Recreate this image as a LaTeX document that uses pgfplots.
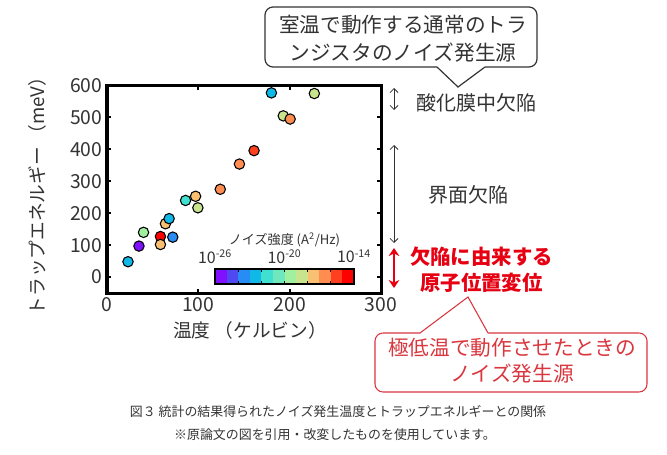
\documentclass[border=0pt]{standalone}
\usepackage{pgfplots}
\pgfplotsset{compat=1.18}
\usepackage{fontspec}
\setmainfont{Noto Sans CJK JP}
\usetikzlibrary{arrows.meta}

\definecolor{txtgray}{HTML}{333333}
\definecolor{annred}{HTML}{E60012}
\definecolor{boxred}{HTML}{D9363E}
% one colour per decade of noise intensity, 10^-26 ... 10^-14
\definecolor{nc0}{RGB}{128,16,255}
\definecolor{nc1}{RGB}{80,72,240}
\definecolor{nc2}{RGB}{40,140,245}
\definecolor{nc3}{RGB}{16,184,232}
\definecolor{nc4}{RGB}{64,224,208}
\definecolor{nc5}{RGB}{112,232,190}
\definecolor{nc6}{RGB}{160,240,160}
\definecolor{nc7}{RGB}{200,228,140}
\definecolor{nc8}{RGB}{248,192,112}
\definecolor{nc9}{RGB}{255,140,80}
\definecolor{nc10}{RGB}{255,64,32}
\definecolor{nc11}{RGB}{255,0,0}

% temperature (K), trap energy (meV), colour class
\pgfplotstableread{
T     E    c
23    48   c3
35    97   c0
40    140  c6
58.5  127  c11
58.5  102  c8
64    167  c8
68    183  c3
72    125  c2
86    240  c4
97    253  c8
99.5  217  c7
124   275  c9
145   354  c9
161   396  c10
180   577  c3
193   505  c7
200.5 495  c9
227   575  c7
}\trapdata

\begin{document}
\begin{tikzpicture}[x=0.75pt,y=0.75pt]
\useasboundingbox (0,0) rectangle (667,454);
\begin{axis}[
  at={(80.25pt,120.75pt)}, anchor=south west,
  scale only axis, width=205.5pt, height=155.6pt,
  xmin=0, xmax=300, ymin=-50, ymax=600,
  xtick={0,100,200,300}, ytick={0,100,...,600},
  tick align=inside, major tick length=3pt,
  every tick/.style={black, line width=1.5pt},
  axis line style={line width=2.25pt},
  tick label style={font=\fontsize{14.5}{16}\selectfont, text=txtgray},
  /pgf/number format/assume math mode=true,
  xlabel={温度 （ケルビン）}, ylabel={トラップエネルギー （meV）},
  every axis x label/.style={at={(axis description cs:0.522,-0.178)}, anchor=center,
    font=\fontsize{14}{16}\selectfont, text=txtgray},
  every axis y label/.style={at={(axis description cs:-0.255,0.489)}, anchor=center, rotate=90,
    font=\fontsize{14}{16}\selectfont, text=txtgray},
]
\addplot[scatter, only marks, mark=*, mark size=3.9pt, point meta=explicit symbolic,
  mark options={line width=0.8pt, draw=black},
  scatter/classes={
    c0={fill=nc0}, c1={fill=nc1}, c2={fill=nc2}, c3={fill=nc3},
    c4={fill=nc4}, c5={fill=nc5}, c6={fill=nc6}, c7={fill=nc7},
    c8={fill=nc8}, c9={fill=nc9}, c10={fill=nc10}, c11={fill=nc11}}]
  table[x=T, y=E, meta=c] {\trapdata};
\end{axis}

% colour bar of noise intensity (log10 scale)
\begin{axis}[
  at={(161.25pt,127.5pt)}, anchor=south west,
  scale only axis, width=104.25pt, height=11.25pt,
  xmin=-26, xmax=-14, ymin=0, ymax=1,
  ytick=\empty,
  xtick={-26,-24,...,-14},
  xticklabels={10\textsuperscript{-26},,,10\textsuperscript{-20},,,10\textsuperscript{-14}},
  xticklabel pos=upper, xtick pos=both,
  tick align=inside, major tick length=2pt,
  every tick/.style={black, line width=0.8pt},
  axis line style={line width=0.9pt},
  axis on top,
  xticklabel style={font=\fontsize{12}{13}\selectfont, text=txtgray, anchor=center, yshift=9.5pt},
  title={ノイズ強度 (A\textsuperscript{2}/Hz)},
  every axis title/.style={at={(0.5,1)}, anchor=center, yshift=22pt,
    font=\fontsize{9.8}{11}\selectfont, text=txtgray},
]
\addplot[draw=none, fill=nc0]  coordinates {(-26,1) (-25,1)} \closedcycle;
\addplot[draw=none, fill=nc1]  coordinates {(-25,1) (-24,1)} \closedcycle;
\addplot[draw=none, fill=nc2]  coordinates {(-24,1) (-23,1)} \closedcycle;
\addplot[draw=none, fill=nc3]  coordinates {(-23,1) (-22,1)} \closedcycle;
\addplot[draw=none, fill=nc4]  coordinates {(-22,1) (-21,1)} \closedcycle;
\addplot[draw=none, fill=nc5]  coordinates {(-21,1) (-20,1)} \closedcycle;
\addplot[draw=none, fill=nc6]  coordinates {(-20,1) (-19,1)} \closedcycle;
\addplot[draw=none, fill=nc7]  coordinates {(-19,1) (-18,1)} \closedcycle;
\addplot[draw=none, fill=nc8]  coordinates {(-18,1) (-17,1)} \closedcycle;
\addplot[draw=none, fill=nc9]  coordinates {(-17,1) (-16,1)} \closedcycle;
\addplot[draw=none, fill=nc10] coordinates {(-16,1) (-15,1)} \closedcycle;
\addplot[draw=none, fill=nc11] coordinates {(-15,1) (-14,1)} \closedcycle;
\end{axis}

% upper callout
\draw[txtgray, line width=0.9pt, rounded corners=6pt]
  (437,387) -- (265,387) -- (265,447) -- (537,447) -- (537,387) -- (485,387);
\draw[txtgray, line width=0.9pt] (437,387) -- (458,367) -- (485,387);
\node[txtgray, font=\fontsize{15.5}{21}\selectfont, align=center] at (403,415)
  {室温で動作する通常のトラ\\ンジスタのノイズ発生源};

% energy ranges
\draw[txtgray, line width=0.6pt, {Straight Barb[length=3pt,width=6pt]}-{Straight Barb[length=3pt,width=6pt]}]
  (394,366) -- (394,344);
\draw[txtgray, line width=0.6pt, {Straight Barb[length=3pt,width=6pt]}-{Straight Barb[length=3pt,width=6pt]}]
  (394,309) -- (394,211);
\draw[annred, line width=2.2pt, {Stealth[length=6pt,width=8pt]}-{Stealth[length=6pt,width=8pt]}]
  (394,206) -- (394,166);
\node[txtgray, font=\fontsize{15}{18}\selectfont] at (476,351) {酸化膜中欠陥};
\node[txtgray, font=\fontsize{15}{18}\selectfont] at (468,259) {界面欠陥};
\node[annred, font=\fontsize{15.3}{19.5}\selectfont\bfseries, align=center] at (481.5,184)
  {欠陥に由来する\\原子位置変位};

% lower callout
\draw[boxred, line width=0.8pt, rounded corners=6pt]
  (420,121) -- (375,121) -- (375,62) -- (647,62) -- (647,121) -- (488,121);
\draw[boxred, line width=0.8pt] (420,121) -- (468,157) -- (488,121);
\node[boxred, font=\fontsize{15.5}{19.5}\selectfont, align=center] at (512,93)
  {極低温で動作させたときの\\ノイズ発生源};

% caption
\node[txtgray, font=\fontsize{9.7}{12}\selectfont] at (338,42)
  {図３ 統計の結果得られたノイズ発生温度とトラップエネルギーとの関係};
\node[txtgray, font=\fontsize{9.7}{12}\selectfont] at (335,19)
  {※原論文の図を引用・改変したものを使用しています。};
\end{tikzpicture}
\end{document}
